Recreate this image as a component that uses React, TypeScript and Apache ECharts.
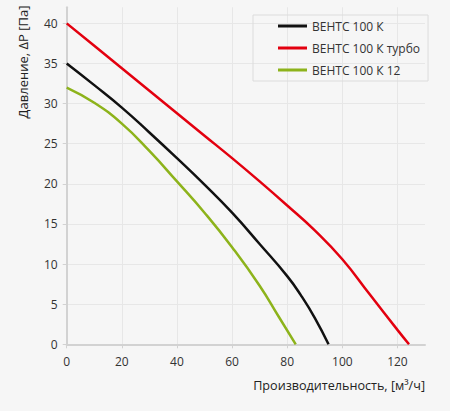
import React, { useEffect, useRef } from "react";
import * as echarts from "echarts";

const seriesNames = ["ВЕНТС 100 К", "ВЕНТС 100 К турбо", "ВЕНТС 100 К 12"];

const blackCurve: [number, number][] = [
  [0, 35], [10, 32.3], [20, 29.5], [30, 26.4], [40, 23.2], [50, 19.9],
  [60, 16.4], [70, 12.5], [80, 8.5], [85, 6.1], [90, 3.3], [95, 0],
];
const redCurve: [number, number][] = [
  [0, 40], [10, 37.2], [20, 34.4], [30, 31.6], [40, 28.8], [50, 26.0],
  [60, 23.2], [70, 20.3], [80, 17.3], [90, 14.2], [100, 10.6], [110, 6.2],
  [120, 1.8], [124.2, 0],
];
const greenCurve: [number, number][] = [
  [0, 32], [10, 30.1], [20, 27.5], [30, 24.1], [40, 20.3], [50, 16.4],
  [60, 12.1], [70, 7.3], [77, 3.4], [83.1, 0],
];

const xTickLabels = [0, 20, 40, 60, 80, 100, 120];
const yTickLabels = [0, 5, 10, 15, 20, 25, 30, 35, 40];

const xAxisTitle = "Производительность, [м³/ч]";
const yAxisTitle = "Давление, ΔР [Па]";

const colors = ["#111111", "#e3000f", "#8db31b"];
const FONT = "'Open Sans', 'Noto Sans', sans-serif";

export default function App() {
  const ref = useRef<HTMLDivElement>(null);
  useEffect(() => {
    document.body.style.margin = "0";
    if (!ref.current) return;
    const chart = echarts.init(ref.current, undefined, { renderer: "svg" });
    const curves = [blackCurve, redCurve, greenCurve];
    chart.setOption({
      animation: false,
      backgroundColor: "#f6f6f6",
      textStyle: { fontFamily: FONT },
      grid: { left: 66.7, right: 25, top: 7.3, bottom: 66.7, outerBoundsMode: "none" },
      legend: {
        orient: "vertical",
        left: 253,
        top: 15,
        padding: [5, 8, 5, 25],
        itemGap: 10,
        itemWidth: 29,
        itemHeight: 3,
        icon: "rect",
        borderColor: "#dcdcdc",
        borderWidth: 1,
        selectedMode: false,
        textStyle: { fontSize: 12, color: "#333", fontFamily: FONT },
        data: seriesNames,
      },
      xAxis: {
        type: "value",
        min: 0,
        max: 130,
        interval: 10,
        axisLine: { show: true, lineStyle: { color: "#d2d2d2", width: 2 } },
        axisTick: { show: true, length: 4, customValues: xTickLabels, lineStyle: { color: "#d2d2d2" } },
        axisLabel: { customValues: xTickLabels, fontSize: 12, color: "#333", margin: 11, fontFamily: FONT },
        splitLine: { show: true, lineStyle: { color: "#e7e7e7", width: 1 } },
      },
      yAxis: {
        type: "value",
        min: 0,
        max: 42,
        interval: 2.5,
        axisLine: { show: true, lineStyle: { color: "#d2d2d2", width: 2 } },
        axisTick: { show: true, length: 4, customValues: yTickLabels, lineStyle: { color: "#d2d2d2" } },
        axisLabel: { customValues: yTickLabels, fontSize: 12, color: "#333", margin: 9, fontFamily: FONT },
        splitLine: { show: true, lineStyle: { color: "#e7e7e7", width: 1 } },
      },
      graphic: [
        {
          type: "text",
          x: 23,
          y: 62,
          rotation: Math.PI / 2,
          style: {
            text: yAxisTitle,
            fontSize: 13,
            fontFamily: FONT,
            fill: "#222",
            align: "center",
            verticalAlign: "middle",
          },
        },
        {
          type: "text",
          x: 425,
          y: 385,
          style: {
            text: xAxisTitle,
            fontSize: 12.6,
            fontFamily: FONT,
            fill: "#222",
            align: "right",
            verticalAlign: "middle",
          },
        },
      ],
      series: curves.map((d, i) => ({
        name: seriesNames[i],
        type: "line",
        data: d,
        smooth: 0.5,
        showSymbol: false,
        symbol: "none",
        lineStyle: { color: colors[i], width: 2.5 },
        itemStyle: { color: colors[i] },
        z: 3 - i,
      })),
    });
    return () => chart.dispose();
  }, []);
  return <div ref={ref} style={{ width: 450, height: 411 }} />;
}
